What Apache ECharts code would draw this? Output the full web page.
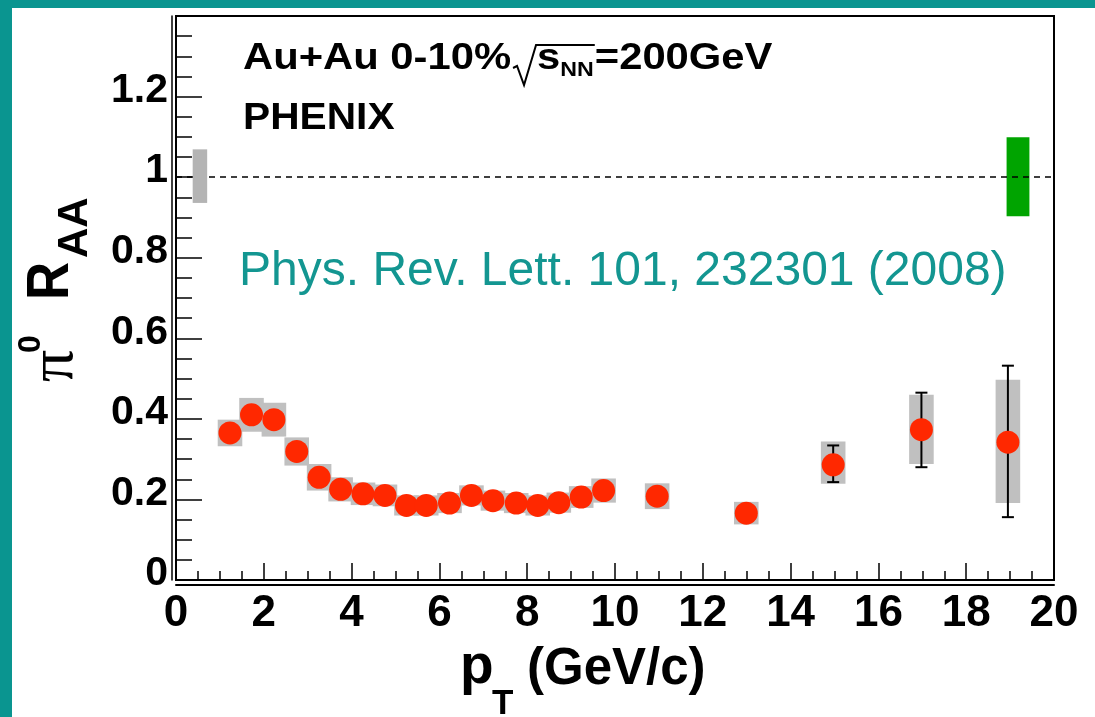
<!DOCTYPE html>
<html><head><meta charset="utf-8">
<script src="https://cdn.jsdelivr.net/npm/echarts@6/dist/echarts.min.js"></script>
<style>html,body{margin:0;padding:0;background:#fff;overflow:hidden}#c{width:1095px;height:717px}</style>
</head><body><div id="c"></div>
<script>
// ---- data ----
const pT  = [1.23,1.72,2.23,2.75,3.26,3.75,4.26,4.76,5.25,5.70,6.23,6.73,7.22,7.75,8.24,8.72,9.23,9.74,10.96,12.99,14.97,16.98,18.95];
const raa = [0.365,0.410,0.398,0.319,0.255,0.225,0.214,0.210,0.185,0.185,0.191,0.210,0.197,0.191,0.185,0.192,0.206,0.222,0.208,0.166,0.286,0.373,0.342];
const statLow  = [0.357,0.402,0.390,0.311,0.247,0.217,0.206,0.202,0.177,0.177,0.183,0.202,0.189,0.183,0.177,0.184,0.198,0.214,0.198,0.156,0.243,0.280,0.156];
const statHigh = [0.373,0.418,0.406,0.327,0.263,0.233,0.222,0.218,0.193,0.193,0.199,0.218,0.205,0.199,0.193,0.200,0.214,0.230,0.218,0.176,0.334,0.465,0.532];
const sysLow   = [0.332,0.368,0.356,0.284,0.222,0.195,0.186,0.183,0.160,0.160,0.166,0.185,0.172,0.166,0.160,0.167,0.179,0.192,0.176,0.138,0.239,0.288,0.191];
const sysHigh  = [0.398,0.452,0.440,0.354,0.288,0.255,0.242,0.237,0.210,0.210,0.216,0.235,0.222,0.216,0.210,0.217,0.233,0.252,0.240,0.194,0.344,0.460,0.497];
// normalization uncertainty boxes at R_AA = 1
const normX    = [0.545, 19.18];
const normLow  = [0.936, 0.903];
const normHigh = [1.069, 1.099];
const refLevel = 1;
const xTitle = ['p', 'T', '(GeV/c)'];
const yTitle = ['\u03c0', '0', 'R', 'AA'];

// ---- styles ----
const TEAL = '#0a9590';
const SANS = '"Liberation Sans", Arial, sans-serif';
const SYS_HALF = 0.28;
const normHalf = [0.165, 0.26];
const normColors = ['#b4b4b4', '#00a400'];

const chart = echarts.init(document.getElementById('c'), null, {renderer: 'canvas'});

const mctx = document.createElement('canvas').getContext('2d');
function tw(text, size, weight) { mctx.font = (weight || 'normal') + ' ' + size + 'px "Liberation Sans", Arial'; return mctx.measureText(text).width; }

function normSeries(idx, z) {
  return {
    type: 'custom', silent: true, z: z,
    data: [[normX[idx], normLow[idx], normHigh[idx]]],
    renderItem: function (params, api) {
      const p1 = api.coord([api.value(0) - normHalf[idx], api.value(2)]);
      const p2 = api.coord([api.value(0) + normHalf[idx], api.value(1)]);
      return {type: 'rect', shape: {x: p1[0], y: p1[1], width: p2[0] - p1[0], height: p2[1] - p1[1]}, style: {fill: normColors[idx]}};
    }
  };
}

// Line-1 annotation built with measured widths
const L1X = 243, L1S = 36, SX = 1.16;
const part1 = 'Au+Au 0-10%';
const w1 = tw(part1, L1S, 'bold') * SX;
const radX = L1X + w1 + 2;
const sX = radX + 24;
const wS = tw('s', L1S, 'bold') * SX;
const wNN = tw('NN', 20, 'bold') * SX;
const eqX = sX + wS + wNN + 1;

const graphics = [
  {type: 'rect', z: 100, shape: {x: 0, y: 0, width: 12, height: 717}, style: {fill: TEAL}},
  {type: 'rect', z: 100, shape: {x: 0, y: 0, width: 1095, height: 8}, style: {fill: TEAL}},
  {type: 'text', x: L1X, y: 59.5, scaleX: SX, style: {text: part1, font: 'bold ' + L1S + 'px ' + SANS, fill: '#000', verticalAlign: 'middle'}},
  {type: 'polyline', shape: {points: [[radX, 68], [radX + 4, 66], [radX + 11, 85], [radX + 23, 45], [eqX, 45]]}, style: {stroke: '#000', lineWidth: 2, fill: null}},
  {type: 'text', x: sX, y: 59.5, scaleX: SX, style: {text: 's', font: 'bold ' + L1S + 'px ' + SANS, fill: '#000', verticalAlign: 'middle'}},
  {type: 'text', x: sX + wS, y: 70, scaleX: SX, style: {text: 'NN', font: 'bold 20px ' + SANS, fill: '#000', verticalAlign: 'middle'}},
  {type: 'text', x: eqX, y: 59.5, scaleX: SX, style: {text: '=200GeV', font: 'bold ' + L1S + 'px ' + SANS, fill: '#000', verticalAlign: 'middle'}},
  {type: 'text', x: L1X, y: 119, scaleX: 1.1, style: {text: 'PHENIX', font: 'bold 37px ' + SANS, fill: '#000', verticalAlign: 'middle'}},
  {type: 'text', x: 239, y: 272, style: {text: 'Phys. Rev. Lett. 101, 232301 (2008)', font: '48px ' + SANS, fill: '#139691', verticalAlign: 'middle'}},
  // x-axis title
  {type: 'text', x: 460, y: 668, style: {text: xTitle[0], font: 'bold 55px ' + SANS, fill: '#000', verticalAlign: 'middle'}},
  {type: 'text', x: 492, y: 704, style: {text: xTitle[1], font: 'bold 35px ' + SANS, fill: '#000', verticalAlign: 'middle'}},
  {type: 'text', x: 527, y: 670, style: {text: xTitle[2], font: 'bold 51px ' + SANS, fill: '#000', verticalAlign: 'middle'}},
  // y-axis title (rotated)
  {type: 'group', x: 73, y: 385, rotation: Math.PI / 2, children: [
    {type: 'text', x: 3, y: -18, style: {text: yTitle[0], font: '64px "Liberation Serif", serif', fill: '#000', verticalAlign: 'middle'}},
    {type: 'text', x: 32, y: -41.5, style: {text: yTitle[1], font: 'bold 32px ' + SANS, fill: '#000', verticalAlign: 'middle'}},
    {type: 'text', x: 85, y: -21.5, scaleX: 0.88, style: {text: yTitle[2], font: 'bold 60px ' + SANS, fill: '#000', verticalAlign: 'middle'}},
    {type: 'text', x: 127, y: 2, style: {text: yTitle[3], font: 'bold 42px ' + SANS, fill: '#000', verticalAlign: 'middle'}}
  ]}
];

const option = {
  backgroundColor: '#fff',
  animation: false,
  grid: {left: 176, right: 41, top: 16, bottom: 137, show: true, borderColor: '#000', borderWidth: 2, backgroundColor: 'transparent'},
  xAxis: [{
    type: 'value', min: 0, max: 20, interval: 2,
    axisLine: {show: true, onZero: false, lineStyle: {color: '#000', width: 2}},
    axisTick: {show: true, inside: true, length: 17, lineStyle: {color: '#000', width: 1.5}},
    minorTick: {show: true, splitNumber: 4, length: 9, lineStyle: {color: '#000', width: 1.5}},
    axisLabel: {fontSize: 44, fontWeight: 'bold', fontFamily: SANS, color: '#000', margin: 12},
    splitLine: {show: false}, minorSplitLine: {show: false}
  }, {
    type: 'value', min: 0, max: 20, position: 'bottom', offset: 5,
    axisLine: {show: true, onZero: false, lineStyle: {color: '#000', width: 2}},
    axisTick: {show: false}, axisLabel: {show: false}, splitLine: {show: false}
  }],
  yAxis: [{
    type: 'value', min: 0, max: 1.4, interval: 0.2,
    axisLine: {show: true, onZero: false, lineStyle: {color: '#000', width: 2}},
    axisTick: {show: true, inside: true, length: 26, lineStyle: {color: '#000', width: 1.5}},
    minorTick: {show: true, splitNumber: 4, length: 16, lineStyle: {color: '#000', width: 1.5}},
    axisLabel: {fontSize: 41, fontWeight: 'bold', fontFamily: SANS, color: '#000', margin: 8, showMaxLabel: false, verticalAlign: 'bottom', lineHeight: 12},
    splitLine: {show: false}, minorSplitLine: {show: false}
  }, {
    type: 'value', min: 0, max: 1.4, position: 'left', offset: 4,
    axisLine: {show: true, onZero: false, lineStyle: {color: '#000', width: 1.5}},
    axisTick: {show: false}, axisLabel: {show: false}, splitLine: {show: false}
  }],
  series: [
    normSeries(0, 5),
    Object.assign(normSeries(1, 1), {
      markLine: {silent: true, symbol: 'none', label: {show: false}, z: 3,
        lineStyle: {color: '#000', width: 1.5, type: [6, 5]},
        data: [{yAxis: refLevel}]}
    }),
    {
      type: 'custom', silent: true, z: 2,
      data: pT.map((x, i) => [x, sysLow[i], sysHigh[i]]),
      renderItem: function (params, api) {
        const p1 = api.coord([api.value(0) - SYS_HALF, api.value(2)]);
        const p2 = api.coord([api.value(0) + SYS_HALF, api.value(1)]);
        return {type: 'rect', shape: {x: p1[0], y: p1[1], width: p2[0] - p1[0], height: p2[1] - p1[1]}, style: {fill: '#c0c0c0'}};
      }
    },
    {
      type: 'custom', silent: true, z: 4,
      data: pT.map((x, i) => [x, statLow[i], statHigh[i]]),
      renderItem: function (params, api) {
        const lo = api.coord([api.value(0), api.value(1)]);
        const hi = api.coord([api.value(0), api.value(2)]);
        const st = {stroke: '#000', lineWidth: 2};
        return {type: 'group', children: [
          {type: 'line', shape: {x1: lo[0], y1: lo[1], x2: hi[0], y2: hi[1]}, style: st},
          {type: 'line', shape: {x1: lo[0] - 6, y1: lo[1], x2: lo[0] + 6, y2: lo[1]}, style: st},
          {type: 'line', shape: {x1: hi[0] - 6, y1: hi[1], x2: hi[0] + 6, y2: hi[1]}, style: st}
        ]};
      }
    },
    {
      type: 'scatter', z: 6, symbol: 'circle', symbolSize: 23,
      itemStyle: {color: '#ff2800', opacity: 1},
      emphasis: {disabled: true},
      data: pT.map((x, i) => [x, raa[i]])
    }
  ],
  graphic: graphics
};
chart.setOption(option);
</script>
</body></html>
